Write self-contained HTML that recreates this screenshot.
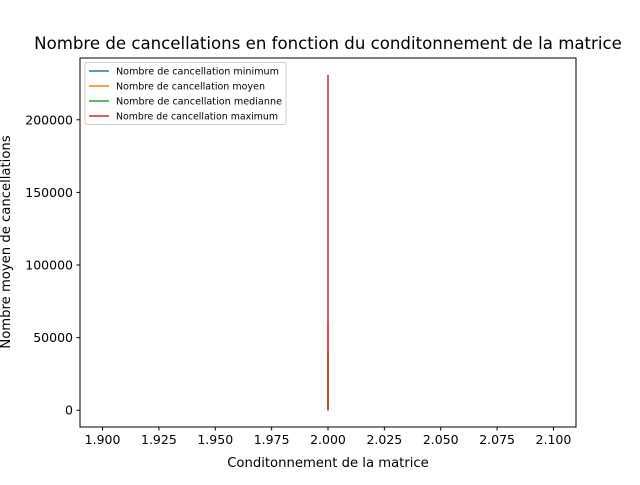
<!DOCTYPE html>
<html><head><meta charset="utf-8"><style>
body{margin:0;background:#fff}
svg{font-family:"DejaVu Sans","Liberation Sans",sans-serif}
</style></head><body>
<svg id="chart" width="640" height="480" xmlns="http://www.w3.org/2000/svg">
<rect width="640" height="480" fill="#fff"/>
<text x="328" y="49" font-size="16.6" text-anchor="middle">Nombre de cancellations en fonction du conditonnement de la matrice</text>
<g id="plot"></g>
<rect x="80" y="58" width="496" height="369" fill="none" stroke="#000" stroke-width="1"/>
<g id="xticks"></g><g id="yticks"></g>
<text x="328" y="467" font-size="13.2" text-anchor="middle">Conditonnement de la matrice</text>
<text transform="translate(10,242) rotate(-90)" font-size="13.2" text-anchor="middle">Nombre moyen de cancellations</text>
<g id="legend"></g>
</svg>
<script>
const xCategories=[2,2];
const seriesNames=["Nombre de cancellation minimum","Nombre de cancellation moyen","Nombre de cancellation medianne","Nombre de cancellation maximum"];
const seriesMin=[0,1000];
const seriesMean=[0,60000];
const seriesMedian=[0,40000];
const seriesMax=[0,231000];
const xTicks=[1.9,1.925,1.95,1.975,2.0,2.025,2.05,2.075,2.1];
const yTicks=[0,50000,100000,150000,200000];
const colors=["#1f77b4","#ff7f0e","#2ca02c","#d62728"];
const legendTextWidths=[163,149,166,162];
const NS="http://www.w3.org/2000/svg";
const L=80,R=576,T=58,B=427;
const xmin=1.89,xmax=2.11;
const ymaxData=Math.max(...seriesMax);
const ylo=-0.05*ymaxData,yhi=1.05*ymaxData;
const sx=v=>L+(v-xmin)/(xmax-xmin)*(R-L);
const sy=v=>B-(v-ylo)/(yhi-ylo)*(B-T);
function mk(tag,attrs,parent){const e=document.createElementNS(NS,tag);for(const k in attrs)e.setAttribute(k,attrs[k]);parent.appendChild(e);return e;}
const plot=document.getElementById('plot');
[seriesMin,seriesMean,seriesMedian,seriesMax].forEach((s,i)=>{
 const p=mk('polyline',{points:s.map((v,j)=>sx(xCategories[j])+','+sy(v)).join(' '),fill:'none',stroke:colors[i],'stroke-width':1.5},plot);
 
 
});
const xg=document.getElementById('xticks');
xTicks.forEach(t=>{
 const x=sx(t);
 const l=mk('line',{x1:x,x2:x,y1:B,y2:B+3.5,stroke:'#000'},xg);
 
 
 const tx=mk('text',{x:x,y:B+17,'font-size':12.5,'text-anchor':'middle'},xg);
 tx.textContent=t.toFixed(3);
 
 
});
const yg=document.getElementById('yticks');
yTicks.forEach(t=>{
 const y=sy(t);
 const l=mk('line',{x1:L-3.5,x2:L,y1:y,y2:y,stroke:'#000'},yg);
 
 
 const tx=mk('text',{x:L-7,y:y+4.5,'font-size':12.5,'text-anchor':'end'},yg);
 tx.textContent=t;
 
 
});
const lg=document.getElementById('legend');


mk('rect',{x:85,y:62.5,width:201,height:62,rx:2,fill:'#fff',stroke:'#ccc'},lg);
seriesNames.forEach((n,i)=>{
 const y=71+i*15;
 const l=mk('line',{x1:89,x2:109,y1:y,y2:y,stroke:colors[i],'stroke-width':1.5},lg);
 
 
 const tx=mk('text',{x:116,y:y+3.5,'font-size':9.5,lengthAdjust:'spacingAndGlyphs',textLength:legendTextWidths[i]},lg);
 tx.textContent=n;
 
 
});
</script>
</body></html>
